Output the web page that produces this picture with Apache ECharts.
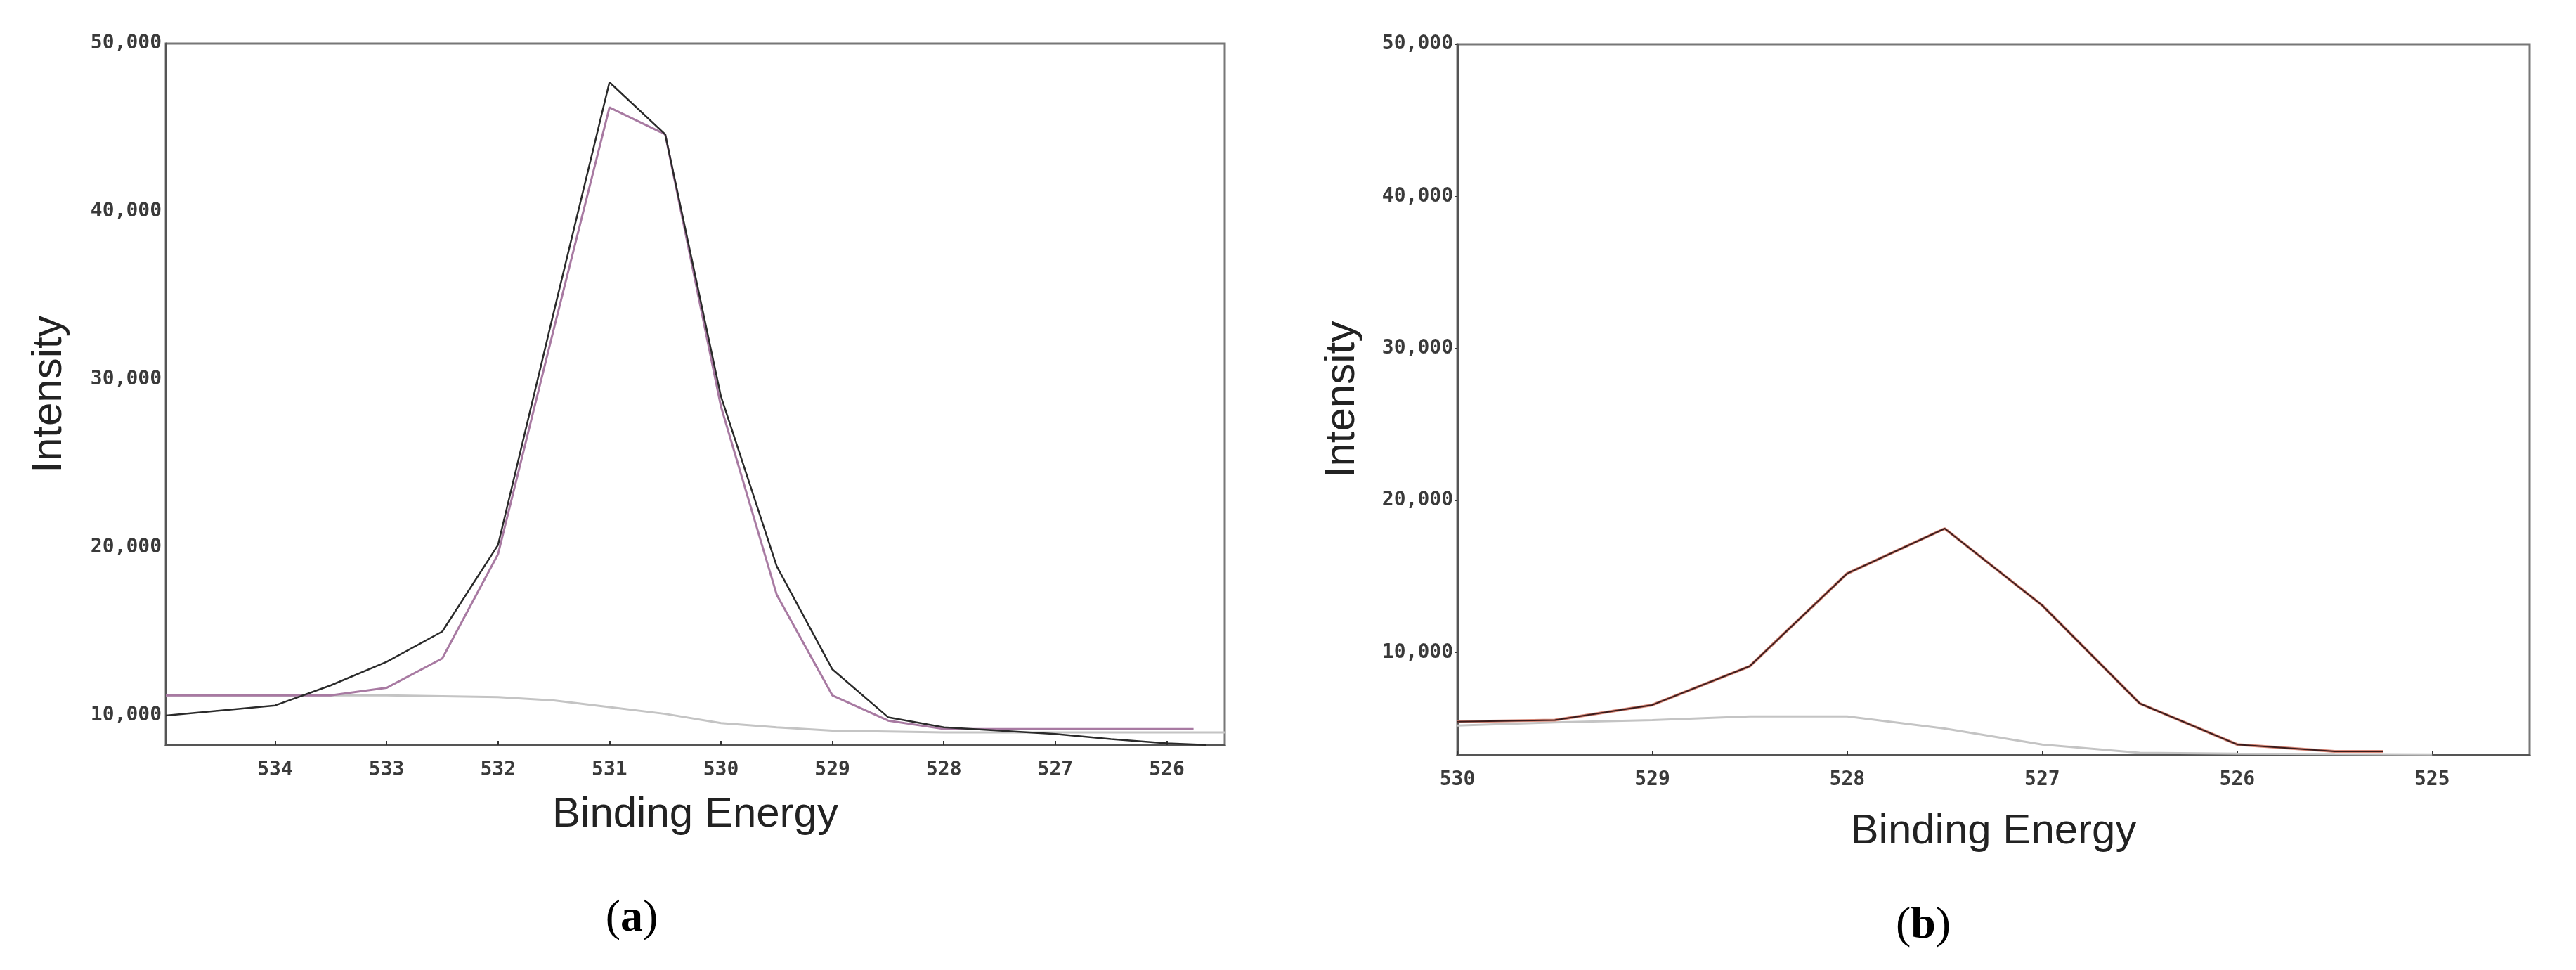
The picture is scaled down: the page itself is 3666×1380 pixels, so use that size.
<!DOCTYPE html>
<html>
<head>
<meta charset="utf-8">
<script src="https://cdn.jsdelivr.net/npm/echarts@6/dist/echarts.min.js"></script>
<style>
  html, body { margin: 0; background: #fff; }
  #chart { width: 3666px; height: 1380px; }
</style>
</head>
<body>
<div id="chart"></div>
<script>
// panel (a): binding energy vs intensity
const aEnergy = [534.98, 534, 533.5, 533, 532.5, 532, 531.5, 531, 530.5, 530, 529.5, 529, 528.5, 528, 527.5, 527, 526.5, 526, 525.65];
const aMeasured = [10000, 10600, 11800, 13200, 15000, 20150, 34000, 47700, 44600, 29000, 18900, 12750, 9900, 9300, 9100, 8900, 8600, 8350, 8250];
const aFitEnergy = [534.98, 533.5, 533, 532.5, 532, 531.5, 531, 530.5, 530, 529.5, 529, 528.5, 528, 527, 526, 525.76];
const aFit = [11200, 11200, 11650, 13400, 19600, 33000, 46200, 44600, 28400, 17200, 11200, 9700, 9200, 9200, 9200, 9200];
const aBgEnergy = [534.98, 533, 532, 531.5, 531, 530.5, 530, 529.5, 529, 528, 525.48];
const aBackground = [11200, 11200, 11100, 10900, 10500, 10100, 9550, 9300, 9100, 9000, 9000];

// panel (b)
const bEnergy = [530, 529.5, 529, 528.5, 528, 527.5, 527, 526.5, 526, 525.5, 525.25];
const bMeasured = [5450, 5550, 6550, 9100, 15200, 18150, 13100, 6650, 3950, 3500, 3500];
const bBgEnergy = [530, 529.5, 529, 528.5, 528, 527.5, 527, 526.5, 526, 525.5, 525];
const bBackground = [5200, 5400, 5550, 5800, 5800, 5000, 3950, 3400, 3350, 3320, 3300];

const aXTicks = [534, 533, 532, 531, 530, 529, 528, 527, 526];
const bXTicks = [530, 529, 528, 527, 526, 525];
const yTicks = [10000, 20000, 30000, 40000, 50000];

const pairs = (xs, ys) => xs.map((x, i) => [x, ys[i]]);
const fmt = (v) => v.toLocaleString('en-US');

const tickFont = { fontFamily: 'DejaVu Sans Mono', fontSize: 28, fontWeight: 'bold', color: '#3a3a3a' };
const nameFont = { fontFamily: 'Liberation Sans', fontSize: 60, color: '#222' };

function xAxis(idx, min, max, ticks, gap) {
  return {
    type: 'value', gridIndex: idx, inverse: true, min: min, max: max,
    name: 'Binding Energy', nameLocation: 'middle', nameGap: gap, nameTextStyle: nameFont,
    axisLine: { lineStyle: { color: '#555', width: 3 } },
    axisTick: { customValues: ticks, inside: true, length: 6, lineStyle: { color: '#333', width: 2 } },
    axisLabel: Object.assign({ customValues: ticks, margin: 22 }, tickFont),
    splitLine: { show: false },
  };
}
function yAxis(idx, min, gap) {
  return {
    type: 'value', gridIndex: idx, min: min, max: 50000,
    name: 'Intensity', nameLocation: 'middle', nameGap: gap, nameTextStyle: nameFont,
    axisLine: { show: true, lineStyle: { color: '#555', width: 3 } },
    axisTick: { show: true, customValues: yTicks, length: 4, lineStyle: { color: '#333' } },
    axisLabel: Object.assign({ customValues: yTicks, formatter: fmt, margin: 6 }, tickFont),
    splitLine: { show: false },
  };
}
function line(idx, data, color, width) {
  return {
    type: 'line', xAxisIndex: idx, yAxisIndex: idx, data: data, symbol: 'none',
    lineStyle: { color: color, width: width }, silent: true,
  };
}
const capStyle = {
  fontFamily: 'Liberation Serif', fontSize: 64, fontWeight: 'normal', color: '#000',
  rich: { b: { fontFamily: 'Liberation Serif', fontSize: 64, fontWeight: 'bold', color: '#000' } },
};

const chart = echarts.init(document.getElementById('chart'));
chart.setOption({
  backgroundColor: '#fff',
  animation: false,
  grid: [
    { left: 236, top: 62, width: 1507, height: 998, show: true, borderColor: '#777', borderWidth: 3 },
    { left: 2074, top: 63, width: 1526, height: 1011, show: true, borderColor: '#777', borderWidth: 3 },
  ],
  xAxis: [xAxis(0, 525.48, 534.98, aXTicks, 69), xAxis(1, 524.5, 530, bXTicks, 79)],
  yAxis: [yAxis(0, 8243, 136), yAxis(1, 3265, 134)],
  title: [
    { text: '({b|a})', left: 894, top: 1270, textAlign: 'center', textStyle: capStyle },
    { text: '({b|b})', left: 2732, top: 1280, textAlign: 'center', textStyle: capStyle },
  ],
  series: [
    line(0, pairs(aBgEnergy, aBackground), '#c4c4c4', 3),
    line(0, pairs(aFitEnergy, aFit), '#a87aa2', 3),
    line(0, pairs(aEnergy, aMeasured), '#2a2a2a', 2.5),
    line(1, pairs(bBgEnergy, bBackground), '#c4c4c4', 3),
    line(1, pairs(bEnergy, bMeasured), '#d88878', 4),
    line(1, pairs(bEnergy, bMeasured), '#3a1c1c', 2),
  ],
});
</script>
</body>
</html>
